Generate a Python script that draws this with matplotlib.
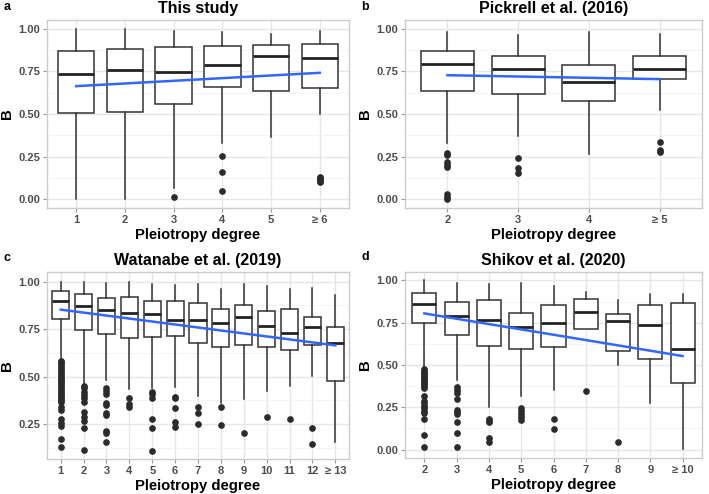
import matplotlib
matplotlib.use('Agg')
import matplotlib.pyplot as plt
import numpy as np

plt.rcParams['font.family'] = ['Liberation Sans', 'DejaVu Sans']

# ---- panel a: This study ----
a_labels = ['1', '2', '3', '4', '5', '≥ 6']
a_q1 = [0.506, 0.512, 0.557, 0.657, 0.637, 0.653]
a_med = [0.735, 0.755, 0.745, 0.788, 0.841, 0.829]
a_q3 = [0.871, 0.882, 0.890, 0.898, 0.904, 0.908]
a_lo = [0.0, 0.0, 0.069, 0.329, 0.365, 0.498]
a_hi = [1.0, 1.0, 0.986, 0.980, 0.971, 0.986]
a_out = [[], [], [0.016], [0.257, 0.159, 0.049], [], [0.131, 0.124, 0.118, 0.110, 0.102]]
a_trend = [0.663, 0.741]

# ---- panel b: Pickrell et al. (2016) ----
b_labels = ['2', '3', '4', '≥ 5']
b_q1 = [0.637, 0.618, 0.576, 0.704]
b_med = [0.790, 0.761, 0.688, 0.765]
b_q3 = [0.870, 0.837, 0.784, 0.841]
b_lo = [0.331, 0.369, 0.264, 0.526]
b_hi = [0.981, 0.962, 0.981, 0.966]
b_out = [[0.273, 0.258, 0.220, 0.203, 0.187, 0.029, 0.013, 0.003],
         [0.241, 0.182, 0.153], [], [0.337, 0.287, 0.276]]
b_trend = [0.727, 0.704]

# ---- panel c: Watanabe et al. (2019) ----
c_labels = ['1', '2', '3', '4', '5', '6', '7', '8', '9', '10', '11', '12', '≥ 13']
c_q1 = [0.803, 0.747, 0.723, 0.704, 0.709, 0.712, 0.676, 0.655, 0.666, 0.658, 0.639, 0.667, 0.480]
c_med = [0.899, 0.874, 0.853, 0.835, 0.828, 0.801, 0.797, 0.785, 0.813, 0.767, 0.730, 0.762, 0.676]
c_q3 = [0.949, 0.934, 0.913, 0.920, 0.901, 0.897, 0.889, 0.855, 0.879, 0.844, 0.858, 0.814, 0.760]
c_lo = [0.590, 0.464, 0.482, 0.434, 0.439, 0.448, 0.400, 0.364, 0.383, 0.427, 0.453, 0.504, 0.156]
c_hi = [1.0, 0.997, 0.991, 0.997, 0.988, 0.983, 0.990, 0.962, 0.990, 0.977, 0.962, 0.965, 0.928]
c_out = [[0.585, 0.575, 0.565, 0.555, 0.545, 0.535, 0.525, 0.515, 0.505, 0.495, 0.485, 0.475,
          0.465, 0.455, 0.445, 0.435, 0.425, 0.415, 0.405, 0.395, 0.385, 0.375, 0.365,
          0.342, 0.325, 0.278, 0.255, 0.243, 0.173, 0.128],
         [0.452, 0.438, 0.420, 0.405, 0.389, 0.365, 0.316, 0.290, 0.269, 0.231, 0.112],
         [0.438, 0.426, 0.409, 0.363, 0.351, 0.308, 0.299, 0.212, 0.204, 0.158],
         [0.386, 0.355, 0.342],
         [0.421, 0.409, 0.386, 0.276, 0.229, 0.110],
         [0.395, 0.386, 0.337, 0.264, 0.233],
         [0.342, 0.310, 0.250],
         [0.343, 0.245],
         [0.206],
         [0.290],
         [0.280],
         [0.232, 0.147],
         []]
c_trend = [0.853, 0.665]

# ---- panel d: Shikov et al. (2020) ----
d_labels = ['2', '3', '4', '5', '6', '7', '8', '9', '≥ 10']
d_q1 = [0.748, 0.680, 0.611, 0.592, 0.605, 0.711, 0.580, 0.537, 0.395]
d_med = [0.859, 0.791, 0.768, 0.723, 0.748, 0.816, 0.762, 0.736, 0.594]
d_q3 = [0.924, 0.875, 0.887, 0.805, 0.857, 0.893, 0.803, 0.857, 0.865]
d_lo = [0.488, 0.410, 0.254, 0.316, 0.352, 0.711, 0.502, 0.277, 0.004]
d_hi = [1.0, 0.986, 0.977, 0.982, 0.967, 0.932, 0.883, 0.922, 0.922]
d_out = [[0.475, 0.465, 0.455, 0.445, 0.435, 0.425, 0.415, 0.405, 0.395, 0.385, 0.375, 0.365,
          0.318, 0.287, 0.273, 0.260, 0.244, 0.230, 0.215, 0.180, 0.088, 0.016],
         [0.367, 0.352, 0.336, 0.297, 0.234, 0.221, 0.209, 0.160, 0.100, 0.016],
         [0.182, 0.170, 0.160, 0.068, 0.045],
         [0.248, 0.229, 0.211, 0.191, 0.176],
         [0.182, 0.121],
         [0.346],
         [0.045],
         [],
         []]
d_trend = [0.805, 0.553]

W, H = 709, 494
fig = plt.figure(figsize=(W / 100, H / 100), dpi=100)


def rect(l, t, r, b):
    return [l / W, 1 - b / H, (r - l) / W, (b - t) / H]


def panel(ax, title, labels, q1, med, q3, lo, hi, out, trend, ylim, yticks):
    n = len(labels)
    pos = np.arange(1, n + 1)
    stats = []
    for i in range(n):
        stats.append(dict(q1=q1[i], med=med[i], q3=q3[i], whislo=lo[i], whishi=hi[i],
                          fliers=out[i]))
    ax.bxp(stats, positions=pos, widths=0.75, showcaps=False, patch_artist=True,
           boxprops=dict(facecolor='white', edgecolor='#333333', linewidth=1.1),
           whiskerprops=dict(color='#333333', linewidth=1.1),
           medianprops=dict(color='#222222', linewidth=2.0),
           flierprops=dict(marker='o', markersize=3.8, markerfacecolor='#2b2b2b',
                           markeredgecolor='#2b2b2b'))
    ax.plot([pos[0], pos[-1]], trend, color='#3366FF', linewidth=1.8, zorder=5)
    ax.set_xlim(0.4, n + 0.6)
    ax.set_ylim(*ylim)
    ax.set_xticks(pos)
    ax.set_xticklabels(labels)
    ax.set_yticks(yticks)
    ax.set_yticklabels(['%.2f' % v for v in yticks])
    mids = [v + 0.125 for v in yticks] + [yticks[0] - 0.125]
    ax.set_yticks([m for m in mids if ylim[0] < m < ylim[1]], minor=True)
    ax.grid(True, which='major', color='#E6E6E6', linewidth=1.0)
    ax.grid(True, which='minor', axis='y', color='#F2F2F2', linewidth=0.6)
    ax.set_axisbelow(True)
    for s in ax.spines.values():
        s.set_color('#CCCCCC')
        s.set_linewidth(1.0)
    ax.tick_params(which='major', length=3, width=0.8, color='#999999', pad=2,
                   labelsize=8, labelcolor='#4D4D4D')
    ax.tick_params(which='minor', length=0)
    for t in ax.get_xticklabels() + ax.get_yticklabels():
        t.set_fontweight('bold')
    ax.set_title(title, fontsize=11.5, fontweight='bold', pad=5)
    ax.set_xlabel('Pleiotropy degree', fontsize=10.7, fontweight='bold', labelpad=2)
    ax.set_ylabel('B', fontsize=10.7, fontweight='bold', labelpad=3)


ax_a = fig.add_axes(rect(47, 20, 349, 208))
panel(ax_a, 'This study', a_labels, a_q1, a_med, a_q3, a_lo, a_hi, a_out, a_trend,
      (-0.05, 1.05), [0.0, 0.25, 0.5, 0.75, 1.0])

ax_b = fig.add_axes(rect(405, 20, 702, 208))
panel(ax_b, 'Pickrell et al. (2016)', b_labels, b_q1, b_med, b_q3, b_lo, b_hi, b_out, b_trend,
      (-0.05, 1.05), [0.0, 0.25, 0.5, 0.75, 1.0])

ax_c = fig.add_axes(rect(47, 272, 349, 459))
panel(ax_c, 'Watanabe et al. (2019)', c_labels, c_q1, c_med, c_q3, c_lo, c_hi, c_out, c_trend,
      (0.067, 1.051), [0.25, 0.5, 0.75, 1.0])

ax_d = fig.add_axes(rect(405, 272, 702, 458))
panel(ax_d, 'Shikov et al. (2020)', d_labels, d_q1, d_med, d_q3, d_lo, d_hi, d_out, d_trend,
      (-0.05, 1.05), [0.0, 0.25, 0.5, 0.75, 1.0])

for letter, x, y in [('a', 4, 7), ('b', 361, 7), ('c', 4, 258), ('d', 361, 257)]:
    fig.text(x / W, 1 - y / H, letter, fontsize=9, fontweight='bold', va='center', ha='left')

fig.savefig('out.png', dpi=100)
